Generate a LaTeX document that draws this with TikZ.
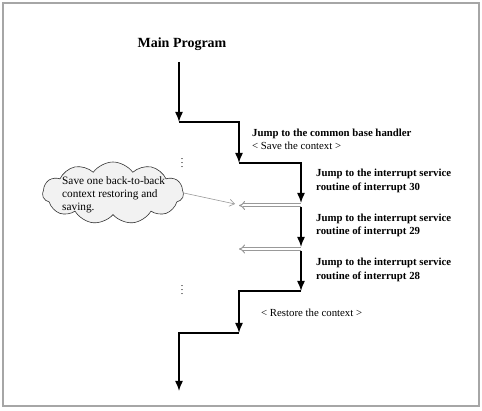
\documentclass[tikz,border=0pt]{standalone}
\usepackage{fontspec}
\setmainfont{Liberation Serif}
\usepackage{amsmath}
\usepackage{amssymb}
\usepackage{tikz}
\usetikzlibrary{calc}
\usetikzlibrary{arrows}
\usetikzlibrary{arrows.meta}
\usetikzlibrary{shapes}
\usetikzlibrary{shapes.symbols}
\usetikzlibrary{positioning}
\tikzset{>={Latex[length=10pt, width=8pt]}}
\tikzstyle{flow} = [->, line width = 1.5pt, black]
\tikzstyle{back} = [{Implies}-, draw = gray!80, double, double distance = 2pt, line width = 1pt]
\tikzstyle{note} = [-{Straight Barb[length=5pt, width=7pt]}, draw = gray!80, line width = 0.6pt]
\tikzstyle{lbl} = [draw=none, inner sep = 0, anchor = west, align = left, font = \fontsize{10.8}{13.2}\selectfont]

\begin{document}
\begin{tikzpicture}[x=1pt, y=-1pt]
\useasboundingbox (0, 0) rectangle (482, 411);
\draw [draw = gray!70, line width = 1.2pt] (3, 3) rectangle (479, 406);

\node [draw=none, inner sep = 0, font = \fontsize{14}{16}\selectfont\bfseries] (main) at (182, 44) {Main Program};

% steps of the flow
\coordinate (m0) at (179, 62);
\coordinate (m1) at (179, 122);
\coordinate (m2) at (239, 163);
\coordinate (m3) at (301, 203);
\coordinate (s30) at (301, 207);
\coordinate (m4) at (301, 247);
\coordinate (s29) at (301, 251);
\coordinate (m5) at (301, 291);
\coordinate (m6) at (239, 333);
\coordinate (m7) at (179, 391);
\draw [flow] (m0) -- (m1);
\draw [flow] (m1) -| (m2);
\draw [flow] (m2) -| (m3);
\draw [flow] (s30) -- (m4);
\draw [flow] (s29) -- (m5);
\draw [flow] (m5) -| (m6);
\draw [flow] (m6) -| (m7);

% back-to-back
\coordinate (d30r) at (301, 205.5);
\coordinate (d30l) at (239, 205.5);
\coordinate (d29r) at (301, 249);
\coordinate (d29l) at (239, 249);
\draw [back] (d30l) -- (d30r);
\draw [back] (d29l) -- (d29r);

\node [draw=none, inner sep = 0] (dots1) at (182, 160) {$\vdots$};
\node [draw=none, inner sep = 0] (dots2) at (182, 287) {$\vdots$};

\node [cloud, cloud puffs = 11, cloud puff arc = 110, aspect = 2.2, draw = black!80, fill = gray!10, line width = 0.6pt, minimum width = 141pt, minimum height = 62pt, inner sep = 0] (cloud) at (113, 193) {};
\node [draw=none, inner sep = 0, anchor = west, align = left, font = \fontsize{11.3}{13.3}\selectfont] (cloudtxt) at (62, 195) {Save one back-to-back\\context restoring and\\saving.};
\coordinate (ptr) at (235, 204);
\draw [note] (cloud.east) -- (ptr);

\node [lbl] (base) at (252, 139.5) {\textbf{Jump to the common base handler}\\< Save the context >};
\node [lbl] (isr30) at (316, 181) {\textbf{Jump to the interrupt service}\\\textbf{routine of interrupt 30}};
\node [lbl] (isr29) at (316, 225.5) {\textbf{Jump to the interrupt service}\\\textbf{routine of interrupt 29}};
\node [lbl] (isr28) at (316, 270) {\textbf{Jump to the interrupt service}\\\textbf{routine of interrupt 28}};
\node [lbl] (restore) at (261, 313) {< Restore the context >};
\end{tikzpicture}
\end{document}
